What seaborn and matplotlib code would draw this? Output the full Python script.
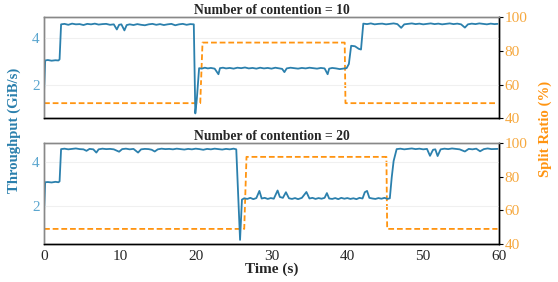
from matplotlib import pyplot as plt
import seaborn as sns
import numpy as np

# throughput traces (GiB/s)
time_10 = [0.0, 0.15, 0.5, 1.0, 1.5, 1.9, 2.05, 2.25, 2.7, 3.2, 3.7, 4.2, 4.7, 5.2, 5.7, 6.2,
           6.7, 7.2, 7.7, 8.2, 8.7, 9.2, 9.6, 9.9, 10.2, 10.6, 10.9, 11.3, 11.8, 12.3, 12.8,
           13.3, 13.8, 14.3, 14.8, 15.3, 15.8, 16.3, 16.8, 17.3, 17.8, 18.3, 18.8, 19.3, 19.75,
           19.95, 20.15, 20.45, 20.8, 21.2, 21.6, 22.0, 22.5, 23.0, 23.2, 23.6, 24.0, 24.5,
           25.0, 25.5, 26.0, 26.5, 27.0, 27.5, 28.0, 28.5, 29.0, 29.5, 30.0, 30.5, 31.0, 31.4,
           31.7, 32.0, 32.5, 33.0, 33.5, 34.0, 34.5, 35.0, 35.5, 36.0, 36.5, 37.0, 37.4, 37.6,
           38.0, 38.5, 39.0, 39.5, 39.9, 40.2, 40.5, 41.0, 41.5, 41.8, 42.1, 42.6, 43.1, 43.6,
           44.1, 44.6, 45.1, 45.6, 46.1, 46.6, 47.1, 47.5, 48.0, 48.5, 49.0, 49.5, 50.0, 50.5,
           51.0, 51.5, 52.0, 52.5, 53.0, 53.5, 54.0, 54.5, 55.0, 55.5, 55.9, 56.4, 56.9, 57.4,
           57.9, 58.4, 58.9, 59.4, 59.8]
thr_10 = [1.72, 3.05, 3.07, 3.04, 3.06, 3.05, 3.10, 4.60, 4.62, 4.58, 4.63, 4.60, 4.61, 4.57, 4.62, 4.60,
          4.63, 4.59, 4.61, 4.62, 4.58, 4.60, 4.38, 4.58, 4.60, 4.34, 4.57, 4.60, 4.57, 4.61, 4.58,
          4.56, 4.60, 4.62, 4.58, 4.61, 4.57, 4.60, 4.62, 4.56, 4.60, 4.62, 4.58, 4.61, 4.60,
          0.78, 1.40, 2.72, 2.70, 2.74, 2.71, 2.73, 2.70, 2.46, 2.72, 2.74, 2.71, 2.73,
          2.70, 2.74, 2.72, 2.75, 2.71, 2.73, 2.70, 2.74, 2.71, 2.73, 2.70, 2.74, 2.71, 2.69,
          2.55, 2.71, 2.74, 2.72, 2.70, 2.73, 2.71, 2.74, 2.72, 2.70, 2.73, 2.71, 2.46, 2.70,
          2.73, 2.71, 2.68, 2.70, 2.72, 2.90, 3.68, 3.66, 3.55, 3.52, 4.63, 4.61, 4.64, 4.60,
          4.62, 4.63, 4.60, 4.62, 4.64, 4.61, 4.45, 4.60, 4.62, 4.64, 4.61, 4.63, 4.60, 4.62,
          4.64, 4.61, 4.63, 4.60, 4.62, 4.64, 4.61, 4.63, 4.60, 4.46, 4.60, 4.63, 4.61, 4.64,
          4.62, 4.60, 4.63, 4.61, 4.62]

time_20 = [0.0, 0.15, 0.5, 1.0, 1.5, 1.9, 2.05, 2.25, 2.7, 3.2, 3.7, 4.2, 4.7, 5.2, 5.6, 6.0,
           6.5, 6.9, 7.2, 7.7, 8.2, 8.7, 9.2, 9.9, 10.3, 10.8, 11.3, 11.8, 12.4, 12.8, 13.3,
           13.8, 14.2, 14.6, 15.0, 15.5, 16.0, 16.5, 17.0, 17.5, 18.0, 18.5, 19.0, 19.5, 20.0,
           20.5, 21.0, 21.5, 22.0, 22.5, 23.0, 23.5, 24.0, 24.5, 25.0, 25.35, 25.85, 26.1,
           26.4, 26.8, 27.2, 27.6, 28.0, 28.4, 28.7, 29.1, 29.5, 29.9, 30.3, 30.8, 31.1, 31.5,
           31.9, 32.3, 32.7, 33.1, 33.5, 34.0, 34.6, 35.0, 35.4, 35.8, 36.2, 36.6, 37.0, 37.3,
           37.6, 38.0, 38.4, 38.8, 39.2, 39.6, 40.0, 40.4, 40.8, 41.2, 41.6, 42.0, 42.3, 42.6,
           42.9, 43.3, 43.7, 44.1, 44.5, 44.9, 45.3, 45.6, 45.85, 46.1, 46.5, 47.0, 47.5, 48.0,
           48.5, 49.0, 49.5, 50.0, 50.5, 50.9, 51.3, 51.6, 51.9, 52.3, 52.8, 53.3, 53.8, 54.3,
           54.8, 55.5, 56.0, 56.5, 57.0, 57.5, 58.0, 58.5, 59.0, 59.8]
thr_20 = [1.72, 3.08, 3.09, 3.07, 3.10, 3.08, 3.12, 4.61, 4.63, 4.60, 4.62, 4.64, 4.61, 4.60, 4.53, 4.62,
          4.60, 4.45, 4.60, 4.63, 4.61, 4.62, 4.60, 4.49, 4.61, 4.63, 4.60, 4.62, 4.45, 4.60, 4.62,
          4.61, 4.58, 4.50, 4.60, 4.63, 4.61, 4.62, 4.60, 4.63, 4.61, 4.59, 4.62, 4.60, 4.63,
          4.61, 4.58, 4.62, 4.60, 4.63, 4.61, 4.59, 4.62, 4.60, 4.63, 4.60, 0.42, 2.28,
          2.34, 2.31, 2.36, 2.30, 2.35, 2.68, 2.33, 2.36, 2.31, 2.35, 2.32, 2.70, 2.40, 2.36,
          2.62, 2.34, 2.31, 2.35, 2.30, 2.36, 2.63, 2.33, 2.36, 2.31, 2.35, 2.32, 2.36, 2.58,
          2.33, 2.31, 2.35, 2.30, 2.36, 2.32, 2.35, 2.31, 2.34, 2.30, 2.36, 2.33, 2.62, 2.68,
          2.36, 2.33, 2.31, 2.35, 2.32, 2.36, 2.31, 2.34, 3.30, 4.06, 4.61, 4.63, 4.60, 4.62,
          4.64, 4.61, 4.63, 4.60, 4.62, 4.30, 4.58, 4.60, 4.29, 4.60, 4.63, 4.61, 4.64, 4.62,
          4.60, 4.50, 4.62, 4.60, 4.63, 4.51, 4.61, 4.64, 4.61, 4.62]

# split ratio (%)
split_time_10 = [0.0, 20.6, 20.9, 39.65, 39.75, 59.8]
split_10 = [49, 49, 85, 85, 49, 49]
split_time_20 = [0.0, 26.4, 26.7, 45.15, 45.25, 59.8]
split_20 = [49, 49, 92, 92, 49, 49]

contentions = [10, 20]

BLUE = "#2b80ad"
BLUE_TICK = "#5ba6cf"
ORANGE = "#ff9410"
ORANGE_TICK = "#f6a83e"

sns.set_style("whitegrid")
plt.rcParams['font.family'] = ['Liberation Serif', 'DejaVu Serif']

fig = plt.figure(figsize=(5.58, 2.82), dpi=100)
ax_top = fig.add_axes([0.0789, 0.5805, 0.8154, 0.358])
ax_bot = fig.add_axes([0.0789, 0.1348, 0.8154, 0.3564])

panels = [(ax_top, time_10, thr_10, split_time_10, split_10, (0.57, 4.9)),
          (ax_bot, time_20, thr_20, split_time_20, split_20, (0.23, 4.87))]

for (ax, t, thr, st, sr, ylim), n in zip(panels, contentions):
	sns.lineplot(x=t, y=thr, ax=ax, color=BLUE, linewidth=1.3, sort=False)
	ax2 = ax.twinx()
	sns.lineplot(x=st, y=sr, ax=ax2, color=ORANGE, linewidth=1.3, linestyle="--", sort=False)
	ax2.lines[0].set_dashes((3.2, 1.6))
	ax.set_zorder(ax2.get_zorder() + 1)
	ax.patch.set_visible(False)

	ax.set_xlim(0, 60)
	ax.set_ylim(*ylim)
	ax.set_yticks([2, 4])
	ax2.set_ylim(40, 100)
	ax2.set_yticks([40, 60, 80, 100])
	ax2.grid(False)
	ax.grid(axis="x", visible=False)
	ax.grid(axis="y", color="#f0f0f0", linewidth=0.8)
	ax.set_xticks(np.arange(0, 61, 10))

	ax.tick_params(axis="y", colors=BLUE_TICK, labelsize=11, length=0, pad=3)
	ax.tick_params(axis="x", labelsize=11, length=3, color="black", pad=1)
	ax2.tick_params(axis="y", colors=ORANGE_TICK, labelsize=11, length=3, pad=1)
	ax2.tick_params(axis="y", color="black")

	for a in (ax, ax2):
		a.spines["left"].set_color("#888888")
		a.spines["top"].set_color("#888888")
		a.spines["bottom"].set_color("black")
		a.spines["right"].set_color("black")
		for s in a.spines.values():
			s.set_linewidth(1.0)
	ax.set(xlabel=None, ylabel=None)
	ax2.set(ylabel=None)
	ax.set_title("Number of contention = %d" % n, fontsize=9.8, fontweight="bold", pad=2)

ax_top.set_xticklabels([])
ax_bot.set_xlabel("Time (s)", fontsize=11, fontweight="bold", labelpad=0)

fig.text(0.025, 0.539, "Throughput (GiB/s)", rotation=90, color=BLUE, fontsize=10.6,
         fontweight="bold", ha="center", va="center")
fig.text(0.978, 0.542, "Split Ratio (%)", rotation=90, color=ORANGE, fontsize=10.6,
         fontweight="bold", ha="center", va="center")

plt.savefig("out.png", dpi=100)
